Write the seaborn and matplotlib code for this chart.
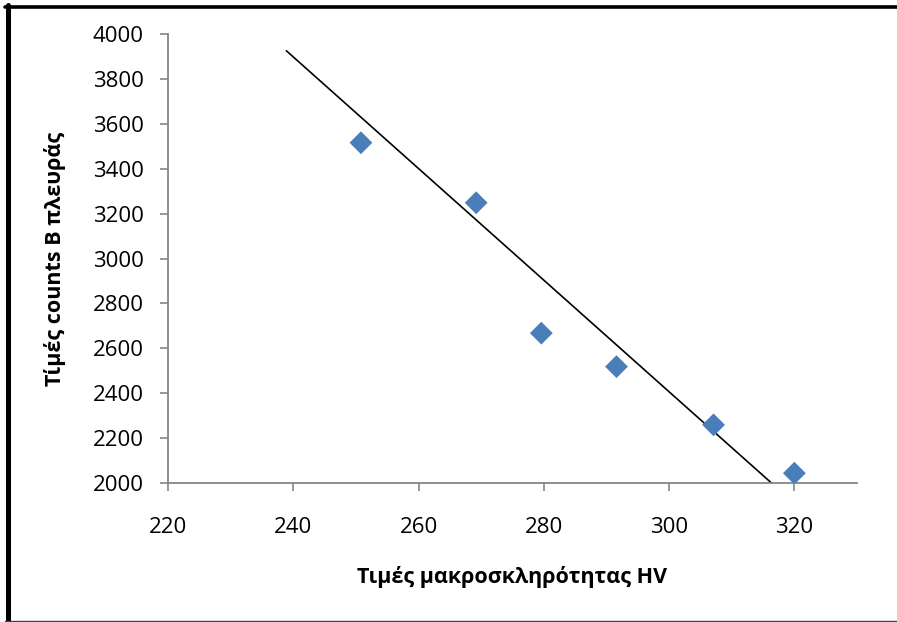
import matplotlib
matplotlib.use("Agg")
import matplotlib.pyplot as plt
from matplotlib.lines import Line2D
import seaborn as sns
import pandas as pd

# Measured hardness (HV) vs. counts on side B
hv_values = [250.8, 269.2, 279.6, 291.6, 307.1, 320.0]
counts_b = [3515, 3248, 2668, 2519, 2260, 2045]

# Straight reference line drawn through the cloud
trend_hv = [238.9, 316.4]
trend_counts = [3924, 2000]

x_ticks = [220, 240, 260, 280, 300, 320]
y_ticks = [2000, 2200, 2400, 2600, 2800, 3000, 3200, 3400, 3600, 3800, 4000]

x_label = "Τιμές μακροσκληρότητας HV"
y_label = "Τίμές counts Β πλευράς"

sns.set_theme(style="white")
plt.rcParams["font.family"] = ["Open Sans", "DejaVu Sans"]
plt.rcParams["text.color"] = "black"
plt.rcParams["axes.labelcolor"] = "black"

points = pd.DataFrame({"hv": hv_values, "counts": counts_b})
trend = pd.DataFrame({"hv": trend_hv, "counts": trend_counts})

fig = plt.figure(figsize=(8.97, 6.22), dpi=100)
ax = fig.add_axes([0.1873, 0.2230, 0.7681, 0.7228])

sns.lineplot(data=trend, x="hv", y="counts", ax=ax, color="black",
             linewidth=1.2, zorder=2)
sns.scatterplot(data=points, x="hv", y="counts", ax=ax, marker="D",
                s=135, color="#4A7EBB", edgecolor="none", linewidth=0, zorder=3)

ax.set_xlim(220, 330)
ax.set_ylim(2000, 4000)
ax.set_xticks(x_ticks)
ax.set_yticks(y_ticks)

axis_grey = "#868686"
for side in ("top", "right"):
    ax.spines[side].set_visible(False)
for side in ("left", "bottom"):
    ax.spines[side].set_color(axis_grey)
    ax.spines[side].set_linewidth(1.3)

ax.tick_params(axis="both", direction="out", length=6, width=1.2,
               color=axis_grey, labelcolor="black", labelsize=16)
ax.tick_params(axis="y", pad=11.5, left=True)
ax.tick_params(axis="x", pad=18, bottom=True)

ax.set_xlabel(x_label, fontsize=15.5, fontweight="bold", color="black")
ax.set_ylabel(y_label, fontsize=15.5, fontweight="bold", color="black")
ax.xaxis.label.set_va("center")
ax.yaxis.label.set_va("center")
ax.xaxis.set_label_coords(0.5, -0.2084)
ax.yaxis.set_label_coords(-0.164, 0.5)

# Chart-area frame: heavy rule on top and left, thin rule at the bottom
fig.add_artist(Line2D([5 / 897, 1.0], [1 - 6.5 / 622, 1 - 6.5 / 622],
                      transform=fig.transFigure, color="black", linewidth=2.6))
fig.add_artist(Line2D([7.5 / 897, 7.5 / 897], [1 - 5 / 622, 0.0],
                      transform=fig.transFigure, color="black", linewidth=3.6))
fig.add_artist(Line2D([5 / 897, 1.0], [1 - 620.5 / 622, 1 - 620.5 / 622],
                      transform=fig.transFigure, color="#404040", linewidth=1.0))

fig.savefig("out.png", dpi=100)
